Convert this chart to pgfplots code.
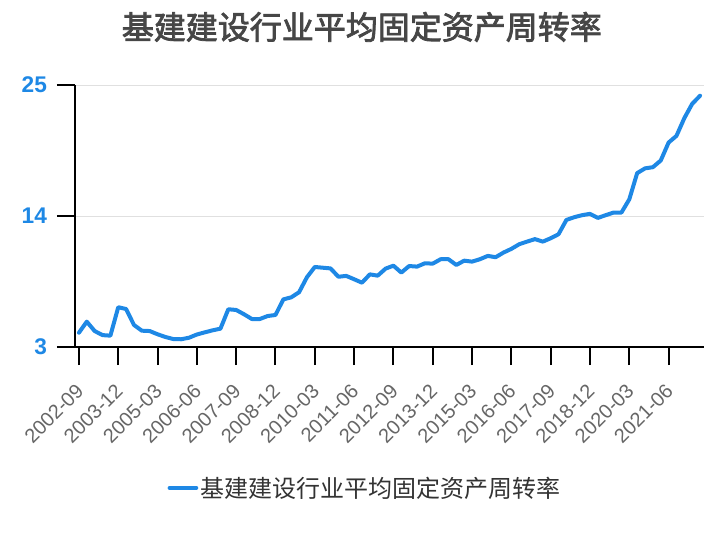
\documentclass[border=0pt]{standalone}
\usepackage{pgfplots}
\pgfplotsset{compat=1.18}
\usepackage{fontspec}
\setmainfont{Liberation Sans}
\newfontfamily\cjk{Noto Sans CJK SC}
\newfontfamily\cjkbold{Noto Sans CJK SC}[FakeBold=2.5]
\definecolor{lineblue}{HTML}{1E88E5}
\definecolor{titlegray}{HTML}{464646}
\definecolor{labgray}{HTML}{666666}
\definecolor{leggray}{HTML}{333333}
\definecolor{gridgray}{HTML}{E0E0E0}
\begin{document}
\begin{tikzpicture}[x=1pt,y=1pt]
\begin{axis}[
  at={(0,0)}, anchor=south west,
  scale only axis, width=471.75pt, height=196.5pt,
  xmin=-0.5, xmax=79.5, ymin=3, ymax=25,
  axis x line=bottom, axis y line=left,
  axis line style={-, line width=1.5pt, black},
  tick style={line width=1.5pt, black},
  major tick length=13.5pt, tick align=outside,
  xtick={0,5,...,75},
  xticklabels={2002-09,2003-12,2005-03,2006-06,2007-09,2008-12,2010-03,2011-06,2012-09,2013-12,2015-03,2016-06,2017-09,2018-12,2020-03,2021-06},
  xticklabel style={xshift=1.5pt, yshift=-16pt, rotate=45, anchor=east, font=\fontsize{15}{15}\selectfont, text=labgray, inner sep=1pt},
  ytick={3,14,25},
  yticklabel style={font=\bfseries\fontsize{17}{17}\selectfont, text=lineblue, xshift=-4pt},
  /pgf/number format/assume math mode=true,
  ymajorgrids, grid style={line width=0.75pt, gridgray},
  title={\cjkbold 基建建设行业平均固定资产周转率},
  title style={at={(0.456,1.191)}, anchor=center, font=\fontsize{24}{28}\selectfont, text=titlegray},
  legend style={at={(0.462,-0.538)}, anchor=center, draw=none, font=\cjk\fontsize{18}{20}\selectfont, text=leggray},
  legend image code/.code={\draw[line width=3pt, lineblue] (-3pt,0pt) -- (17pt,0pt);},
  clip=false,
]
\addplot[lineblue, line width=3pt, line join=round, line cap=round] coordinates {
(0,4.2) (1,5.13) (2,4.34) (3,4.0) (4,3.95) (5,6.34) (6,6.19) (7,4.85) (8,4.37) (9,4.34)
(10,4.07) (11,3.84) (12,3.67) (13,3.65) (14,3.78) (15,4.05) (16,4.23) (17,4.4) (18,4.54) (19,6.17)
(20,6.11) (21,5.75) (22,5.35) (23,5.35) (24,5.6) (25,5.69) (26,7.0) (27,7.17) (28,7.6) (29,8.86)
(30,9.72) (31,9.66) (32,9.6) (33,8.9) (34,8.97) (35,8.69) (36,8.4) (37,9.1) (38,8.99) (39,9.58)
(40,9.83) (41,9.25) (42,9.8) (43,9.75) (44,10.03) (45,10.0) (46,10.37) (47,10.37) (48,9.89) (49,10.25)
(50,10.17) (51,10.37) (52,10.65) (53,10.54) (54,10.93) (55,11.24) (56,11.63) (57,11.85) (58,12.06) (59,11.85)
(60,12.13) (61,12.47) (62,13.67) (63,13.9) (64,14.07) (65,14.18) (66,13.84) (67,14.07) (68,14.29) (69,14.29)
(70,15.4) (71,17.6) (72,18.0) (73,18.1) (74,18.66) (75,20.17) (76,20.73) (77,22.22) (78,23.42) (79,24.1)
};
\addlegendentry{基建建设行业平均固定资产周转率}
\end{axis}
\pgfresetboundingbox
\path[use as bounding box] (-56.25,-144.75) rectangle (486.75,260.25);
\end{tikzpicture}
\end{document}
